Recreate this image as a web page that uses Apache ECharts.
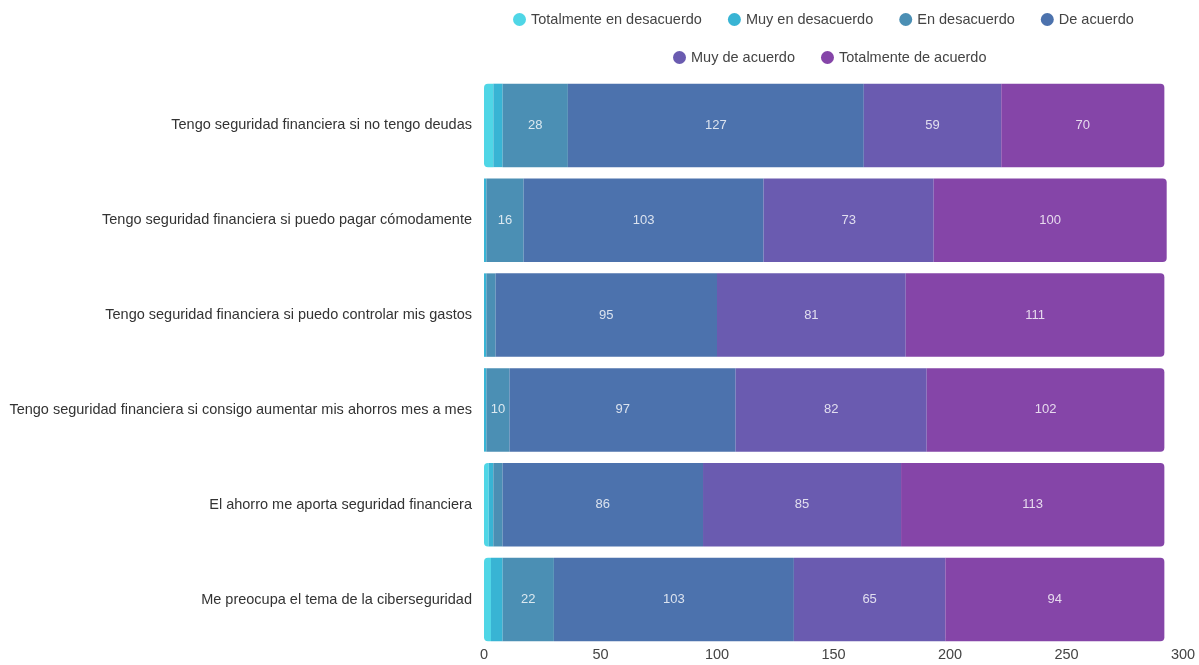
<!DOCTYPE html>
<html>
<head>
<meta charset="utf-8">
<script src="https://cdn.jsdelivr.net/npm/echarts@6/dist/echarts.min.js"></script>
<style>
  html, body { margin: 0; padding: 0; background: #fff; }
  #chart { width: 1199px; height: 665px; }
</style>
</head>
<body>
<div id="chart"></div>
<script>
// Statements, top to bottom
const categories = [
  'Tengo seguridad financiera si no tengo deudas',
  'Tengo seguridad financiera si puedo pagar cómodamente',
  'Tengo seguridad financiera si puedo controlar mis gastos',
  'Tengo seguridad financiera si consigo aumentar mis ahorros mes a mes',
  'El ahorro me aporta seguridad financiera',
  'Me preocupa el tema de la ciberseguridad'
];

const seriesNames = [
  'Totalmente en desacuerdo',
  'Muy en desacuerdo',
  'En desacuerdo',
  'De acuerdo',
  'Muy de acuerdo',
  'Totalmente de acuerdo'
];

// Responses per statement (same order as categories)
const totalmenteEnDesacuerdo = [4, 0, 0, 0, 2, 3];
const muyEnDesacuerdo        = [4, 1, 1, 1, 2, 5];
const enDesacuerdo           = [28, 16, 4, 10, 4, 22];
const deAcuerdo              = [127, 103, 95, 97, 86, 103];
const muyDeAcuerdo           = [59, 73, 81, 82, 85, 65];
const totalmenteDeAcuerdo    = [70, 100, 111, 102, 113, 94];

const xTicks = [0, 50, 100, 150, 200, 250, 300];

const seriesValues = [
  totalmenteEnDesacuerdo, muyEnDesacuerdo, enDesacuerdo,
  deAcuerdo, muyDeAcuerdo, totalmenteDeAcuerdo
];
const colors = ['#4fd6e6', '#38b4d4', '#4b8fb4', '#4c72ad', '#6a5bb0', '#8545a8'];

const font = 'Liberation Sans, Arial, sans-serif';
const textSize = 14.5;

const chart = echarts.init(document.getElementById('chart'), null, { renderer: 'canvas' });

const series = seriesValues.map((vals, i) => ({
  name: seriesNames[i],
  type: 'bar',
  stack: 'total',
  barCategoryGap: '12%',
  data: vals,
  itemStyle: {
    color: colors[i],
    borderRadius: i === 0 ? [4, 0, 0, 4] : (i === seriesValues.length - 1 ? [0, 4, 4, 0] : 0)
  },
  label: {
    show: true,
    position: 'inside',
    color: 'rgba(255,255,255,0.8)',
    fontSize: 13,
    fontFamily: font,
    formatter: p => (p.value >= 10 ? p.value : '')
  },
  emphasis: { disabled: true }
}));

const legendText = { color: '#444', fontSize: textSize, fontFamily: font };

chart.setOption({
  animation: false,
  color: colors,
  legend: [
    {
      data: seriesNames.slice(0, 4),
      left: 508, top: 7,
      icon: 'circle', itemWidth: 13, itemHeight: 13, itemGap: 26,
      textStyle: legendText
    },
    {
      data: seriesNames.slice(4),
      left: 668, top: 45,
      icon: 'circle', itemWidth: 13, itemHeight: 13, itemGap: 26,
      textStyle: legendText
    }
  ],
  grid: { left: 484, right: 16, top: 78, bottom: 18, containLabel: false },
  xAxis: {
    type: 'value',
    min: 0, max: 300, interval: 50,
    axisLine: { show: false },
    axisTick: { show: false },
    splitLine: { show: false },
    axisLabel: {
      margin: 0, color: '#444', fontSize: textSize, fontFamily: font,
      formatter: v => (xTicks.includes(v) ? String(v) : '')
    }
  },
  yAxis: {
    type: 'category',
    inverse: true,
    data: categories,
    axisLine: { show: false },
    axisTick: { show: false },
    axisLabel: { margin: 12, color: '#333', fontSize: textSize, fontFamily: font }
  },
  series
});
</script>
</body>
</html>
